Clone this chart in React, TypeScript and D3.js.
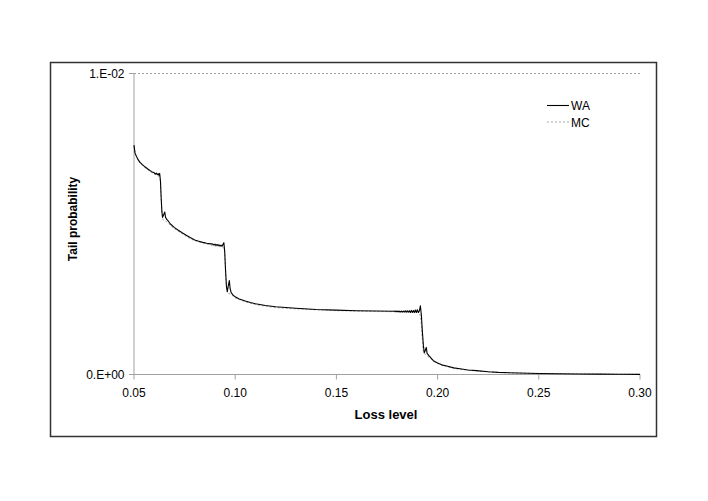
import React from "react";
import * as d3 from "d3";

// Loss level (x) and tail probability (×1e-3) for the WA series
const waLoss = [
  0.05, 0.0505, 0.051, 0.0521, 0.053, 0.054, 0.0554, 0.057, 0.0587, 0.06, 0.0605, 0.061, 0.0615, 0.062, 0.0623, 0.0627,
  0.0631, 0.0634, 0.0638, 0.0641, 0.0646, 0.0652, 0.0656, 0.0662, 0.0669, 0.068, 0.07, 0.0719, 0.074, 0.076, 0.078,
  0.08, 0.082, 0.084, 0.086, 0.088, 0.089, 0.0895, 0.09, 0.0905, 0.091, 0.0915, 0.092, 0.0925, 0.093, 0.0935, 0.0944,
  0.0948, 0.0952, 0.0957, 0.0961, 0.0966, 0.0971, 0.0975, 0.098, 0.099, 0.1, 0.102, 0.105, 0.1075, 0.11, 0.115, 0.12,
  0.13, 0.14, 0.15, 0.16, 0.17, 0.178,
  0.179, 0.1795, 0.18, 0.1805, 0.181, 0.1815, 0.182, 0.1825, 0.183, 0.1835, 0.184, 0.1845, 0.185, 0.1855, 0.186,
  0.1865, 0.187, 0.1875, 0.188, 0.1885, 0.189, 0.1895, 0.19, 0.1905, 0.191,
  0.1915, 0.192, 0.1925, 0.193, 0.1934, 0.1939, 0.1944, 0.1948, 0.1958, 0.1979, 0.2, 0.202, 0.2045, 0.208, 0.2111,
  0.215, 0.2193, 0.225, 0.23, 0.24, 0.25, 0.26, 0.27, 0.28, 0.29, 0.3,
];
const waProb = [
  7.62, 7.35, 7.28, 7.13, 7.05, 6.98, 6.9, 6.82, 6.74, 6.7, 6.66, 6.69, 6.64, 6.67, 6.62, 6.68,
  6.4, 5.9, 5.4, 5.22, 5.3, 5.4, 5.22, 5.15, 5.1, 5.0, 4.88, 4.79, 4.7, 4.62, 4.54,
  4.47, 4.43, 4.39, 4.36, 4.34, 4.33, 4.3, 4.33, 4.29, 4.32, 4.28, 4.31, 4.27, 4.3, 4.26, 4.38,
  4.1, 3.5, 2.9, 2.75, 2.95, 3.12, 2.85, 2.72, 2.64, 2.58, 2.51, 2.44, 2.39, 2.35, 2.29, 2.25,
  2.2, 2.16, 2.14, 2.12, 2.11, 2.1,
  2.11, 2.08, 2.11, 2.08, 2.11, 2.07, 2.11, 2.07, 2.11, 2.07, 2.12, 2.07, 2.12, 2.07, 2.12,
  2.06, 2.13, 2.06, 2.13, 2.06, 2.14, 2.06, 2.15, 2.06, 2.12,
  2.28, 1.95, 1.4, 0.95, 0.72, 0.8, 0.9, 0.7, 0.62, 0.46, 0.38, 0.32, 0.28, 0.22, 0.19,
  0.15, 0.13, 0.09, 0.07, 0.05, 0.035, 0.025, 0.018, 0.012, 0.008, 0.005,
];

// MC series (×1e-3)
const mcLoss = [
  0.05, 0.051, 0.053, 0.0554, 0.0587, 0.062, 0.063, 0.0636, 0.0642, 0.066, 0.068, 0.07, 0.074, 0.078, 0.082, 0.086,
  0.09, 0.094, 0.0948, 0.0956, 0.0962, 0.098, 0.1, 0.105, 0.11, 0.12, 0.13, 0.15, 0.17, 0.191, 0.1918, 0.1928, 0.194,
  0.196, 0.198, 0.2, 0.205, 0.21, 0.22, 0.23, 0.24, 0.26, 0.28, 0.3,
];
const mcProb = [
  7.58, 7.25, 7.02, 6.87, 6.71, 6.6, 6.5, 5.6, 5.15, 5.08, 4.95, 4.84, 4.66, 4.5, 4.4, 4.33,
  4.27, 4.23, 4.1, 3.0, 2.7, 2.66, 2.54, 2.41, 2.32, 2.22, 2.18, 2.12, 2.09, 2.08, 1.8, 0.8, 0.66,
  0.56, 0.44, 0.36, 0.25, 0.18, 0.11, 0.065, 0.045, 0.022, 0.011, 0.005,
];

const xTicks = [0.05, 0.1, 0.15, 0.2, 0.25, 0.3];
const yTicks = [0, 10];
const yTickLabels = ["0.E+00", "1.E-02"];
const seriesNames = ["WA", "MC"];

const W = 708;
const H = 501;
const FONT = "Liberation Sans, Arial, sans-serif";

export default function App() {
  const x = d3.scaleLinear().domain([0.05, 0.3]).range([134, 640]);
  const y = d3.scaleLinear().domain([0, 10]).range([374.5, 73.5]);

  const wa = waLoss.map((l, i) => [l, waProb[i]] as [number, number]);
  const mc = mcLoss.map((l, i) => [l, mcProb[i]] as [number, number]);
  const line = d3
    .line<[number, number]>()
    .x((d) => x(d[0]))
    .y((d) => y(d[1]));

  const axisColor = "#a0a0a0";

  return (
    <svg
      width={W}
      height={H}
      style={{ position: "absolute", left: 0, top: 0, background: "#fff" }}
      fontFamily={FONT}
    >
      <rect x={0} y={0} width={W} height={H} fill="#fff" />
      <rect x={50.5} y={62.5} width={606} height={374} fill="none" stroke="#333" strokeWidth={1.5} />

      {/* top gridline */}
      <line x1={134} x2={640} y1={y(10)} y2={y(10)} stroke={axisColor} strokeDasharray="2,2" />

      {/* axes */}
      <line x1={134} x2={134} y1={y(10)} y2={y(0)} stroke={axisColor} />
      <line x1={134} x2={640} y1={y(0)} y2={y(0)} stroke={axisColor} />

      {yTicks.map((t, i) => (
        <g key={"yt" + i}>
          <line x1={129} x2={134} y1={y(t)} y2={y(t)} stroke={axisColor} />
          <text x={124.5} y={y(t) + 4.3} textAnchor="end" fontSize={12} fill="#000">
            {yTickLabels[i]}
          </text>
        </g>
      ))}

      {xTicks.map((t, i) => (
        <g key={"xt" + i}>
          <line x1={x(t)} x2={x(t)} y1={y(0)} y2={y(0) + 5} stroke={axisColor} />
          <text x={x(t)} y={397} textAnchor="middle" fontSize={12} fill="#000">
            {t.toFixed(2)}
          </text>
        </g>
      ))}

      {/* series */}
      <path d={line(mc) || ""} fill="none" stroke="#a8a8a8" strokeWidth={1} strokeDasharray="2,2" />
      <path d={line(wa) || ""} fill="none" stroke="#000" strokeWidth={1.1} strokeLinejoin="round" />

      {/* legend */}
      <line x1={547} x2={569} y1={105.5} y2={105.5} stroke="#000" strokeWidth={1.1} />
      <text x={571} y={110} fontSize={12} fill="#000">
        {seriesNames[0]}
      </text>
      <line x1={547} x2={569} y1={122} y2={122} stroke="#a8a8a8" strokeDasharray="2,2" />
      <text x={571} y={126.5} fontSize={12} fill="#000">
        {seriesNames[1]}
      </text>

      {/* axis titles */}
      <text x={386} y={418.5} textAnchor="middle" fontSize={13} fontWeight="bold" fill="#000">
        Loss level
      </text>
      <text
        transform={`translate(77, 219) rotate(-90)`}
        textAnchor="middle"
        fontSize={12}
        fontWeight="bold"
        fill="#000"
      >
        Tail probability
      </text>
    </svg>
  );
}
